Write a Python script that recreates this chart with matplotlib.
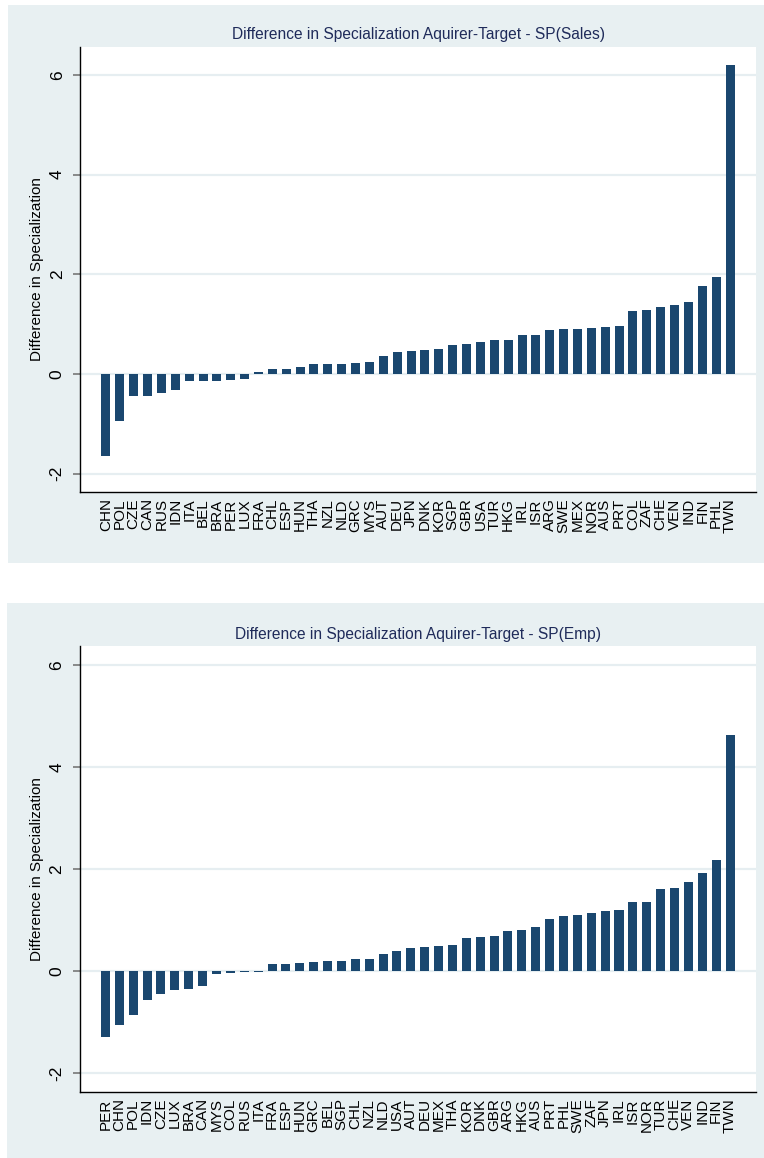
import matplotlib
matplotlib.use("Agg")
import matplotlib.pyplot as plt
from matplotlib.patches import Rectangle
import numpy as np

plt.rcParams['font.family'] = ['Liberation Sans', 'DejaVu Sans']

# Difference in specialization (acquirer minus target), sorted ascending
sales_countries = ["CHN", "POL", "CZE", "CAN", "RUS", "IDN", "ITA", "BEL", "BRA", "PER",
                   "LUX", "FRA", "CHL", "ESP", "HUN", "THA", "NZL", "NLD", "GRC", "MYS",
                   "AUT", "DEU", "JPN", "DNK", "KOR", "SGP", "GBR", "USA", "TUR", "HKG",
                   "IRL", "ISR", "ARG", "SWE", "MEX", "NOR", "AUS", "PRT", "COL", "ZAF",
                   "CHE", "VEN", "IND", "FIN", "PHL", "TWN"]
sales_values = [-1.65, -0.94, -0.45, -0.44, -0.38, -0.33, -0.15, -0.15, -0.15, -0.13,
                -0.10, 0.03, 0.10, 0.10, 0.13, 0.19, 0.19, 0.19, 0.22, 0.23,
                0.35, 0.43, 0.46, 0.47, 0.49, 0.57, 0.59, 0.65, 0.68, 0.69,
                0.78, 0.79, 0.88, 0.90, 0.91, 0.92, 0.95, 0.97, 1.27, 1.29,
                1.34, 1.39, 1.44, 1.76, 1.95, 6.19]

emp_countries = ["PER", "CHN", "POL", "IDN", "CZE", "LUX", "BRA", "CAN", "MYS", "COL",
                 "RUS", "ITA", "FRA", "ESP", "HUN", "GRC", "BEL", "SGP", "CHL", "NZL",
                 "NLD", "USA", "AUT", "DEU", "MEX", "THA", "KOR", "DNK", "GBR", "ARG",
                 "HKG", "AUS", "PRT", "PHL", "SWE", "ZAF", "JPN", "IRL", "ISR", "NOR",
                 "TUR", "CHE", "VEN", "IND", "FIN", "TWN"]
emp_values = [-1.30, -1.06, -0.86, -0.56, -0.45, -0.37, -0.35, -0.29, -0.06, -0.04,
              -0.02, -0.01, 0.13, 0.13, 0.15, 0.17, 0.19, 0.19, 0.24, 0.24,
              0.33, 0.39, 0.45, 0.47, 0.49, 0.51, 0.64, 0.66, 0.68, 0.78,
              0.80, 0.87, 1.02, 1.07, 1.09, 1.13, 1.18, 1.20, 1.35, 1.35,
              1.61, 1.63, 1.75, 1.92, 2.17, 4.62]

y_ticks = [-2, 0, 2, 4, 6]

W, H = 764, 1158
BG = "#e8f0f2"
BAR = "#1a476f"
GRID = "#e6eef1"
TITLE_C = "#1f2b5a"

fig = plt.figure(figsize=(W / 100, H / 100), dpi=100)


def px_rect(x0, y0, x1, y1):
    return [x0 / W, 1 - y1 / H, (x1 - x0) / W, (y1 - y0) / H]


def panel(bg_box, ax_box, countries, values, title, ylim, title_y):
    x0, y0, x1, y1 = bg_box
    fig.add_artist(Rectangle((x0 / W, 1 - y1 / H), (x1 - x0) / W, (y1 - y0) / H,
                             transform=fig.transFigure, facecolor=BG,
                             edgecolor="none", zorder=-10))
    ax = fig.add_axes(px_rect(*ax_box))
    ax.set_facecolor("white")
    pos = np.arange(len(countries))
    ax.bar(pos, values, width=0.65, color=BAR, edgecolor="none", zorder=3)
    ax.set_xlim(-1.87, len(countries) - 1 + 1.87)
    ax.set_ylim(*ylim)
    ax.set_yticks(y_ticks)
    ax.set_yticklabels([str(t) for t in y_ticks], rotation=90, va="center",
                       fontsize=12.5)
    ax.set_xticks(pos)
    ax.set_xticklabels(countries, rotation=90, fontsize=11, va="top", ha="center")
    ax.tick_params(axis="x", length=0, pad=4.5)
    ax.tick_params(axis="y", length=5, width=1.2, color="#777777", pad=6)
    for t in y_ticks:
        ax.axhline(t, color=GRID, lw=1.6, zorder=1)
    for side in ("top", "right"):
        ax.spines[side].set_visible(False)
    for side in ("left", "bottom"):
        ax.spines[side].set_color("black")
        ax.spines[side].set_linewidth(1.0)
    ax.set_ylabel("Difference in Specialization", fontsize=11)
    ax.yaxis.set_label_coords(-0.053, 0.5)
    cx = (ax_box[0] + ax_box[2]) / 2
    fig.text(cx / W, 1 - title_y / H, title, ha="center", va="center",
             fontsize=11.2, color=TITLE_C)
    return ax


panel((8, 5, 764, 563), (80, 47, 756, 492), sales_countries, sales_values,
      "Difference in Specialization Aquirer-Target - SP(Sales)", (-2.37, 6.56), 34)
panel((7, 603, 764, 1158), (79.5, 646, 756, 1092), emp_countries, emp_values,
      "Difference in Specialization Aquirer-Target - SP(Emp)", (-2.37, 6.37), 635)

fig.savefig("out.png", dpi=100, facecolor="white")
